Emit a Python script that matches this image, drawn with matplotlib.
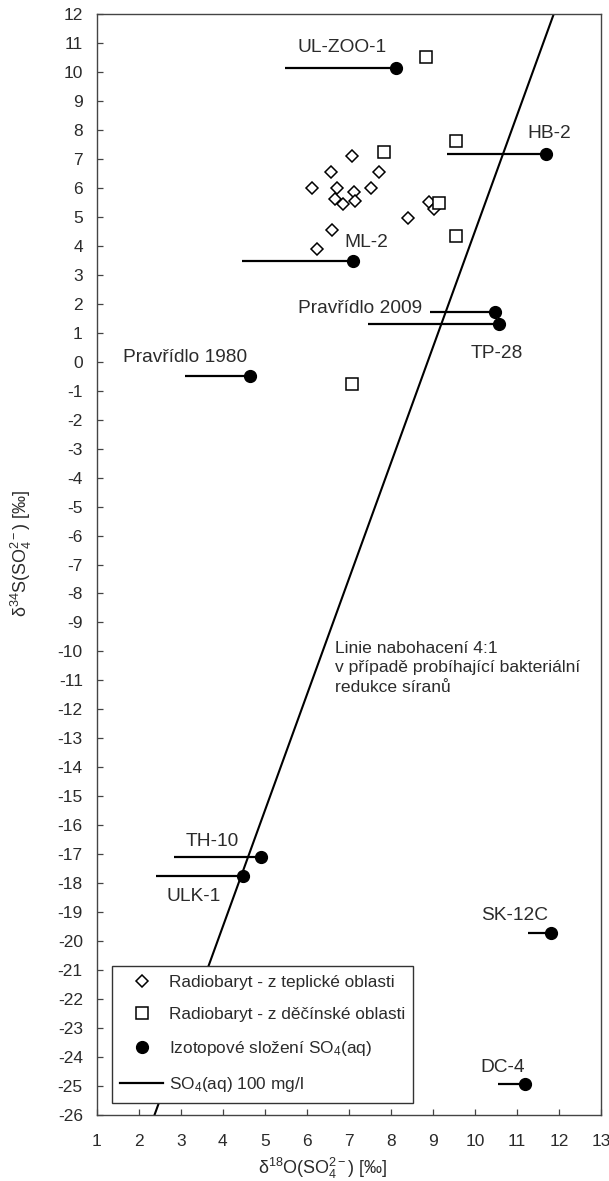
import matplotlib
matplotlib.use("Agg")
import matplotlib.pyplot as plt
from matplotlib.lines import Line2D

plt.rcParams['font.family'] = ['Liberation Sans', 'DejaVu Sans']
plt.rcParams['mathtext.fontset'] = 'custom'
plt.rcParams['mathtext.rm'] = 'Liberation Sans'
plt.rcParams['mathtext.it'] = 'Liberation Sans:italic'
plt.rcParams['mathtext.bf'] = 'Liberation Sans:bold'
plt.rcParams['axes.unicode_minus'] = False

TXT = '#2b2b2b'

# radiobaryt - teplice area (diamonds)
tep_o = [7.07, 6.57, 7.72, 6.13, 6.72, 7.12, 7.52, 6.67, 6.85, 7.14, 8.90, 9.03, 8.41, 6.59, 6.25]
tep_s = [7.11, 6.56, 6.54, 5.98, 6.00, 5.87, 5.98, 5.61, 5.44, 5.56, 5.50, 5.27, 4.95, 4.54, 3.89]

# radiobaryt - decin area (squares)
dec_o = [8.83, 9.54, 7.84, 9.15, 9.54, 7.08]
dec_s = [10.53, 7.63, 7.25, 5.49, 4.35, -0.78]

# dissolved sulphate samples, line starts at so4_from (length = SO4 concentration)
samples = ["UL-ZOO-1", "HB-2", "ML-2", "Pravřídlo 2009", "TP-28", "Pravřídlo 1980",
           "TH-10", "ULK-1", "SK-12C", "DC-4"]
so4_o = [8.12, 11.70, 7.09, 10.47, 10.58, 4.65, 4.90, 4.49, 11.81, 11.19]
so4_s = [10.13, 7.17, 3.48, 1.70, 1.30, -0.49, -17.09, -17.75, -19.73, -24.93]
so4_from = [5.48, 9.33, 4.46, 8.93, 7.46, 3.10, 2.84, 2.40, 11.27, 10.55]

# 4:1 enrichment line end points
enr_o = [2.375, 11.875]
enr_s = [-26, 12]

# label offsets (points) relative to the sample dot
lab_off = {
    "UL-ZOO-1": (-39, 15, 'center'),
    "HB-2": (2, 15, 'center'),
    "ML-2": (10, 13, 'center'),
    "Pravřídlo 2009": (-52, 3, 'right'),
    "TP-28": (-2, -21, 'center'),
    "Pravřídlo 1980": (-47, 13.5, 'center'),
    "TH-10": (-35, 11, 'center'),
    "ULK-1": (-36, -15, 'center'),
    "SK-12C": (-26, 13, 'center'),
    "DC-4": (-16, 12, 'center'),
}

fig = plt.figure(figsize=(6.09, 11.81), dpi=100)
ax = fig.add_axes([0.1588, 0.0559, 0.9869 - 0.1588, 0.9881 - 0.0559])

ax.plot(enr_o, enr_s, color='black', lw=1.5, zorder=2)

for x0, x1, y in zip(so4_from, so4_o, so4_s):
    ax.plot([x0, x1], [y, y], color='black', lw=1.6, solid_capstyle='butt', zorder=3)
ax.plot(so4_o, so4_s, 'o', color='black', ms=8.5, zorder=4)

ax.plot(tep_o, tep_s, 'D', mfc='white', mec='black', mew=1.1, ms=6.3, ls='none', zorder=3)
ax.plot(dec_o, dec_s, 's', mfc='white', mec='black', mew=1.1, ms=8.3, ls='none', zorder=3)

for name, x, y in zip(samples, so4_o, so4_s):
    dx, dy, ha = lab_off[name]
    ax.annotate(name, (x, y), xytext=(dx, dy), textcoords='offset points',
                ha=ha, va='center', fontsize=13.8, color=TXT, zorder=5)

ax.text(6.67, -9.65, "Linie nabohacení 4:1\nv případě probíhající bakteriální\nredukce síranů",
        ha='left', va='top', fontsize=12.6, color=TXT, linespacing=1.35)

ax.set_xlim(1, 13)
ax.set_ylim(-26, 12)
ax.set_xticks(range(1, 14))
ax.set_yticks(range(-26, 13))
ax.tick_params(direction='in', length=4.5, width=0.9, colors='#444444',
               labelcolor=TXT, labelsize=12.5)
ax.tick_params(axis='y', pad=10)
ax.tick_params(axis='x', pad=14)
for sp in ax.spines.values():
    sp.set_linewidth(1.0)
    sp.set_color('#444444')

ax.set_xlabel("δ$^{18}$O(SO$_4^{2-}$) [‰]", fontsize=13, color=TXT)
ax.set_ylabel("δ$^{34}$S(SO$_4^{2-}$) [‰]", fontsize=13, color=TXT)
ax.xaxis.set_label_coords(0.449, -0.037)
ax.yaxis.set_label_coords(-0.125, 0.51)

handles = [
    Line2D([], [], marker='D', mfc='white', mec='black', mew=1.1, ms=6.3, ls='none'),
    Line2D([], [], marker='s', mfc='white', mec='black', mew=1.1, ms=8.3, ls='none'),
    Line2D([], [], marker='o', color='black', ms=8.5, ls='none'),
    Line2D([], [], color='black', lw=1.6),
]
labels = ["Radiobaryt - z teplické oblasti", "Radiobaryt - z děčínské oblasti",
          "Izotopové složení SO$_4$(aq)", "SO$_4$(aq) 100 mg/l"]
leg = ax.legend(handles, labels, loc='lower left', bbox_to_anchor=(0.0297, 0.0109),
                borderaxespad=0, fontsize=12.4, frameon=True, fancybox=False,
                handlelength=2.5, handletextpad=0.3, labelspacing=1.0,
                borderpad=0.5, labelcolor=TXT)
leg.get_frame().set_edgecolor('#333333')
leg.get_frame().set_linewidth(1.0)
leg.get_frame().set_alpha(1)
leg.set_zorder(10)

fig.savefig("out.png", dpi=100)
